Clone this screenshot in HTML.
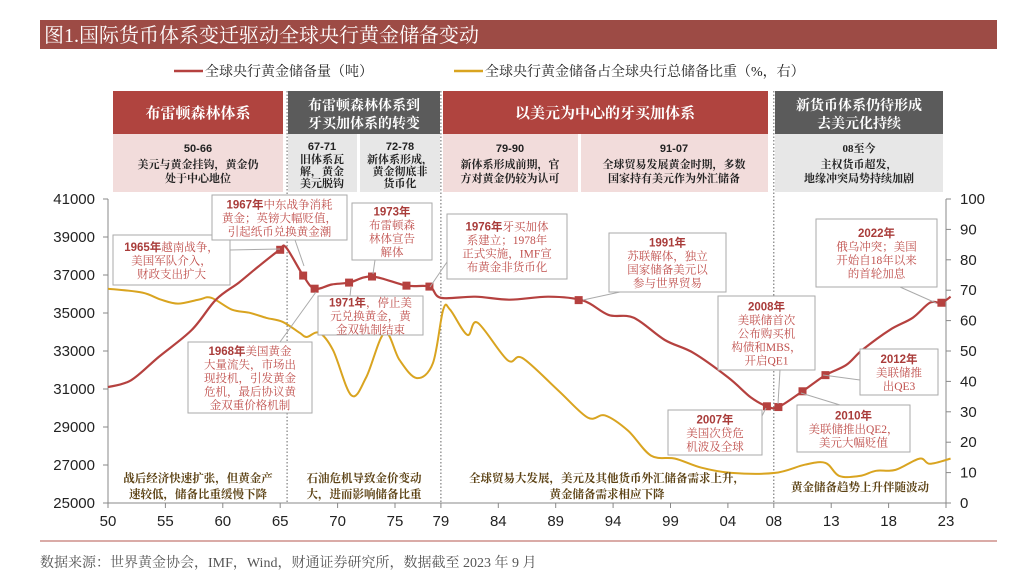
<!DOCTYPE html>
<html><head><meta charset="utf-8">
<style>
html,body{margin:0;padding:0;background:#fff;}
svg{display:block;font-family:"Liberation Serif","Noto Serif CJK SC",serif;}
.ax{font-family:"Liberation Sans","Noto Sans CJK SC",sans-serif;font-size:15px;fill:#222;}
.ann{font-size:11.5px;fill:#c0504d;}
.ann .b{font-weight:bold;fill:#a93c3a;font-family:"Liberation Sans","Noto Sans CJK SC",sans-serif;}
.cap{font-size:11.5px;fill:#5c4214;font-weight:bold;}
.hd{font-size:11px;fill:#222;font-weight:bold;}
</style></head>
<body>
<svg id="chart" width="1024" height="581" viewBox="0 0 1024 581" xmlns="http://www.w3.org/2000/svg">
  <rect x="40" y="20" width="957" height="29" fill="#9d4b45"/>
  <text x="44" y="42" font-size="20" fill="#fff">图1.国际货币体系变迁驱动全球央行黄金储备变动</text>

  <g>
    <g>
      <line x1="174" y1="71" x2="203" y2="71" stroke="#b5413f" stroke-width="2.5"/>
      <text x="205" y="76" font-size="14" fill="#222">全球央行黄金储备量（吨）</text>
    </g>
    <g>
      <line x1="454" y1="71" x2="483" y2="71" stroke="#d9a420" stroke-width="2.5"/>
      <text x="485" y="76" font-size="14" fill="#222">全球央行黄金储备占全球央行总储备比重（%，右）</text>
    </g>
  </g>

  <g>
    <rect x="113" y="91" width="170" height="43" fill="#b0443f"/>
    <text x="198" y="118" font-size="15" fill="#fff" text-anchor="middle" font-weight="bold">布雷顿森林体系</text>
    <rect x="288" y="91" width="152" height="43" fill="#5b5b5b"/>
    <text x="364" y="110" font-size="14" fill="#fff" text-anchor="middle" font-weight="bold">布雷顿森林体系到</text>
    <text x="364" y="128" font-size="14" fill="#fff" text-anchor="middle" font-weight="bold">牙买加体系的转变</text>
    <rect x="443" y="91" width="325" height="43" fill="#b0443f"/>
    <text x="605" y="118" font-size="15" fill="#fff" text-anchor="middle" font-weight="bold">以美元为中心的牙买加体系</text>
    <rect x="775" y="91" width="168" height="43" fill="#5b5b5b"/>
    <text x="859" y="110" font-size="14" fill="#fff" text-anchor="middle" font-weight="bold">新货币体系仍待形成</text>
    <text x="859" y="128" font-size="14" fill="#fff" text-anchor="middle" font-weight="bold">去美元化持续</text>

    <rect x="113" y="134" width="170" height="58" fill="#f2dcdb"/>
    <text class="hd" x="198" y="152" text-anchor="middle" font-family="Liberation Sans" font-size="13">50-66</text>
    <text class="hd" x="198" y="168" text-anchor="middle">美元与黄金挂钩，黄金仍</text>
    <text class="hd" x="198" y="182" text-anchor="middle">处于中心地位</text>
    <rect x="288" y="134" width="69" height="58" fill="#e7e7e7"/>
    <text class="hd" x="322" y="150" text-anchor="middle" font-family="Liberation Sans" font-size="13">67-71</text>
    <text class="hd" x="322" y="163" text-anchor="middle" font-size="9.5">旧体系瓦</text>
    <text class="hd" x="322" y="175" text-anchor="middle" font-size="9.5">解，黄金</text>
    <text class="hd" x="322" y="187" text-anchor="middle" font-size="9.5">美元脱钩</text>
    <rect x="360" y="134" width="80" height="58" fill="#e7e7e7"/>
    <text class="hd" x="400" y="150" text-anchor="middle" font-family="Liberation Sans" font-size="13">72-78</text>
    <text class="hd" x="400" y="163" text-anchor="middle" font-size="9.5">新体系形成，</text>
    <text class="hd" x="400" y="175" text-anchor="middle" font-size="9.5">黄金彻底非</text>
    <text class="hd" x="400" y="187" text-anchor="middle" font-size="9.5">货币化</text>
    <rect x="443" y="134" width="135" height="58" fill="#f2dcdb"/>
    <text class="hd" x="510" y="152" text-anchor="middle" font-family="Liberation Sans" font-size="13">79-90</text>
    <text class="hd" x="510" y="168" text-anchor="middle">新体系形成前期，官</text>
    <text class="hd" x="510" y="182" text-anchor="middle">方对黄金仍较为认可</text>
    <rect x="581" y="134" width="187" height="58" fill="#f2dcdb"/>
    <text class="hd" x="674" y="152" text-anchor="middle" font-family="Liberation Sans" font-size="13">91-07</text>
    <text class="hd" x="674" y="168" text-anchor="middle">全球贸易发展黄金时期，多数</text>
    <text class="hd" x="674" y="182" text-anchor="middle">国家持有美元作为外汇储备</text>
    <rect x="775" y="134" width="168" height="58" fill="#e7e7e7"/>
    <text class="hd" x="859" y="152" text-anchor="middle">08至今</text>
    <text class="hd" x="859" y="168" text-anchor="middle">主权货币超发，</text>
    <text class="hd" x="859" y="182" text-anchor="middle">地缘冲突局势持续加剧</text>
  </g>

  <g id="axes"></g>
  <g id="dividers"></g>
  <g id="lines"></g>
  <g id="anns"></g>

  <g>
    <text class="cap" x="198" y="482" text-anchor="middle">战后经济快速扩张，但黄金产</text>
    <text class="cap" x="198" y="498" text-anchor="middle">速较低，储备比重缓慢下降</text>
    <text class="cap" x="364" y="482" text-anchor="middle">石油危机导致金价变动</text>
    <text class="cap" x="364" y="498" text-anchor="middle">大，进而影响储备比重</text>
    <text class="cap" x="607" y="482" text-anchor="middle">全球贸易大发展，美元及其他货币外汇储备需求上升，</text>
    <text class="cap" x="607" y="498" text-anchor="middle">黄金储备需求相应下降</text>
    <text class="cap" x="860" y="491" text-anchor="middle">黄金储备趋势上升伴随波动</text>
  </g>

  <line x1="40" y1="541" x2="997" y2="541" stroke="#b5574f" stroke-width="1"/>
  <text x="40" y="567" font-size="14" fill="#555">数据来源：世界黄金协会，IMF，Wind，财通证券研究所，数据截至 2023 年 9 月</text>
</svg>
<script>
const reserveYears = [1950,1952,1954.4,1957.3,1959.4,1961.4,1963.1,1964.9,1965.5,1967,1968,1969.5,1971,1973,1976,1978,1979,1982,1985,1988.4,1991.4,1993.6,1995.8,1998.5,2001,2004,2006,2007.4,2008.4,2010.5,2012.5,2014.3,2015.7,2018.1,2020.1,2021.6,2022.6,2023.4];
const reserveTons = [31100,31460,32680,34110,35700,36600,37450,38300,38460,36970,36280,36500,36600,36920,36440,36390,35800,35860,35700,35860,35650,34900,34750,33580,32900,31620,30560,30090,30050,30880,31730,32260,33050,34110,34750,35540,35540,35860];
const shareYears = [1950,1953,1954.6,1956.1,1957.9,1959,1960.8,1962.3,1963.8,1965.2,1966.7,1967.3,1968.4,1969.6,1971.2,1972.5,1974.1,1975.4,1976.9,1978.3,1979.2,1979.8,1981.3,1982.2,1984.8,1986.1,1989.2,1991.8,1993.3,1995.3,1997.3,1999.4,2001.7,2004.3,2008.1,2010.7,2012.5,2013.7,2015.5,2016.9,2018.6,2020.7,2021.6,2023.4];
const shareValues = [70.5,69.2,66.9,65.6,66.9,67.5,63.6,62.6,60.9,59.6,56.0,54.6,56.0,50.3,35.4,41.4,56.0,47.0,41.1,46.0,63.6,63.6,55.3,59.3,47.0,47.7,37.1,28.1,28.8,23.8,15.6,14.6,11.6,9.9,9.9,12.6,13.2,8.9,8.9,10.6,10.9,14.6,12.9,14.6];
const markerYears = [1965,1967,1968,1971,1973,1976,1978,1991,2007.4,2008.4,2010.5,2012.5,2022.6];
const leftTicks = [25000,27000,29000,31000,33000,35000,37000,39000,41000];
const rightTicks = [0,10,20,30,40,50,60,70,80,90,100];
const xTickYears = [1950,1955,1960,1965,1970,1975,1979,1984,1989,1994,1999,2004,2008,2013,2018,2023];
const xTickLabels = ["50","55","60","65","70","75","79","84","89","94","99","04","08","13","18","23"];
const dividerYears = [1965.6,1979,2008];

const X0=108,X1=946,Y0=503,Y1=199;
const xs = y => X0 + (y-1950)/(2023-1950)*(X1-X0);
const yl = v => Y0 - (v-25000)/16000*(Y0-Y1);
const yr = v => Y0 - v/100*(Y0-Y1);
const NS="http://www.w3.org/2000/svg";
function mk(tag, attrs, parent){const e=document.createElementNS(NS,tag);for(const k in attrs)e.setAttribute(k,attrs[k]);parent.appendChild(e);return e;}
function interp(xa,ya,x){for(let i=0;i<xa.length-1;i++){if(x>=xa[i]&&x<=xa[i+1]){const t=(x-xa[i])/(xa[i+1]-xa[i]);return ya[i]+t*(ya[i+1]-ya[i]);}}return x<xa[0]?ya[0]:ya[ya.length-1];}
function smooth(pts){let d="M"+pts[0][0].toFixed(1)+","+pts[0][1].toFixed(1);for(let i=0;i<pts.length-1;i++){const p0=pts[i-1]||pts[i],p1=pts[i],p2=pts[i+1],p3=pts[i+2]||p2;const c1=[p1[0]+(p2[0]-p0[0])/6,p1[1]+(p2[1]-p0[1])/6],c2=[p2[0]-(p3[0]-p1[0])/6,p2[1]-(p3[1]-p1[1])/6];d+=`C${c1[0].toFixed(1)},${c1[1].toFixed(1)} ${c2[0].toFixed(1)},${c2[1].toFixed(1)} ${p2[0].toFixed(1)},${p2[1].toFixed(1)}`;}return d;}

const axes=document.getElementById('axes');
const la=mk('line',{x1:X0,y1:Y1,x2:X0,y2:Y0,stroke:'#888'},axes);


const ra=mk('line',{x1:X1,y1:Y1,x2:X1,y2:Y0,stroke:'#888'},axes);


const xa=mk('line',{x1:X0,y1:Y0,x2:X1,y2:Y0,stroke:'#888'},axes);


leftTicks.forEach(v=>{mk('line',{x1:X0-5,y1:yl(v),x2:X0,y2:yl(v),stroke:'#888'},axes);const t=mk('text',{x:X0-13,y:yl(v)+5,'text-anchor':'end','class':'ax'},axes);t.textContent=v;

});
rightTicks.forEach(v=>{mk('line',{x1:X1,y1:yr(v),x2:X1+5,y2:yr(v),stroke:'#888'},axes);const t=mk('text',{x:X1+14,y:yr(v)+5,'class':'ax'},axes);t.textContent=v;

});
xTickYears.forEach((y,i)=>{mk('line',{x1:xs(y),y1:Y0,x2:xs(y),y2:Y0+5,stroke:'#888'},axes);const t=mk('text',{x:xs(y),y:Y0+23,'text-anchor':'middle','class':'ax'},axes);t.textContent=xTickLabels[i];

});

const dv=document.getElementById('dividers');
dividerYears.forEach(y=>{const l=mk('line',{x1:xs(y),y1:91,x2:xs(y),y2:Y0,stroke:'#666','stroke-dasharray':'1.5,2'},dv);

});

const lg=document.getElementById('lines');
const sp=mk('path',{d:smooth(shareYears.map((y,i)=>[xs(y),yr(shareValues[i])])),fill:'none',stroke:'#d9a420','stroke-width':2},lg);


const rp=mk('path',{d:smooth(reserveYears.map((y,i)=>[xs(y),yl(reserveTons[i])])),fill:'none',stroke:'#b5413f','stroke-width':2.2},lg);


markerYears.forEach(y=>{const cy=yl(interp(reserveYears,reserveTons,y));const m=mk('rect',{x:xs(y)-4,y:cy-4,width:8,height:8,fill:'#b5413f'},lg);

});

const anns=[
 {b:[113,235,117,50],p:[230,250,280,249],l:[["1965年","越南战争，"],["","美国军队介入，"],["","财政支出扩大"]]},
 {b:[212,195,135,45],p:[295,240,304,266],l:[["1967年","中东战争消耗"],["","黄金；英镑大幅贬值，"],["","引起纸币兑换黄金潮"]]},
 {b:[352,203,80,57],p:[375,260,373,274],l:[["1973年",""],["","布雷顿森"],["","林体宣告"],["","解体"]]},
 {b:[318,296,105,39],p:[350,296,351,287],l:[["1971年","，停止美"],["","元兑换黄金，黄"],["","金双轨制结束"]]},
 {b:[188,342,124,71],p:[280,342,316,292],l:[["1968年","美国黄金"],["","大量流失，市场出"],["","现投机，引发黄金"],["","危机，最后协议黄"],["","金双重价格机制"]]},
 {b:[447,214,120,65],p:[447,262,430,287],l:[["1976年","牙买加体"],["","系建立；1978年"],["","正式实施，IMF宣"],["","布黄金非货币化"]]},
 {b:[609,233,117,59],p:[620,292,583,300],l:[["1991年",""],["","苏联解体，独立"],["","国家储备美元以"],["","参与世界贸易"]]},
 {b:[718,296,97,74],p:[780,370,778,404],l:[["2008年",""],["","美联储首次"],["","公布购买机"],["","构债和MBS，"],["","开启QE1"]]},
 {b:[668,410,94,45],p:[760,420,766,408],l:[["2007年",""],["","美国次贷危"],["","机波及全球"]]},
 {b:[816,219,121,68],p:[900,287,936,303],l:[["2022年",""],["","俄乌冲突；美国"],["","开始自18年以来"],["","的首轮加息"]]},
 {b:[860,349,78,46],p:[860,380,823,375],l:[["2012年",""],["","美联储推"],["","出QE3"]]},
 {b:[797,405,113,47],p:[840,405,801,393],l:[["2010年",""],["","美联储推出QE2，"],["","美元大幅贬值"]]}
];
const ag=document.getElementById('anns');
anns.forEach(a=>{
 const g=mk('g',{},ag);
 
 
 const [x,y,w,h]=a.b;
 mk('line',{x1:a.p[0],y1:a.p[1],x2:a.p[2],y2:a.p[3],stroke:'#aaa','stroke-width':1},g);
 mk('rect',{x:x,y:y,width:w,height:h,fill:'#fff',stroke:'#aaa','stroke-width':1},g);
 const n=a.l.length, lh=13.5, top=y+(h-n*lh)/2+11;
 a.l.forEach((ln,i)=>{const t=mk('text',{x:x+w/2,y:top+i*lh,'text-anchor':'middle','class':'ann'},g);
  if(ln[0]){const s=mk('tspan',{'class':'b'},t);s.textContent=ln[0];}
  if(ln[1]){const s=mk('tspan',{},t);s.textContent=ln[1];}});
});
</script>
</body></html>
